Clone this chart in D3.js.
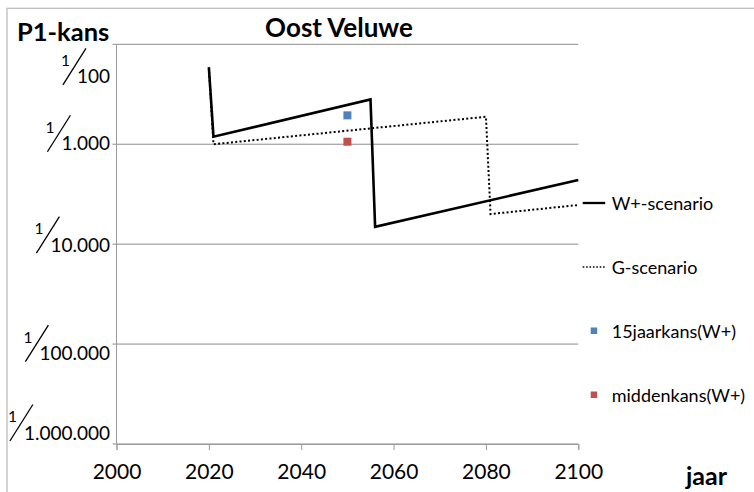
<!DOCTYPE html>
<html>
<head>
<meta charset="utf-8">
<script src="https://cdn.jsdelivr.net/npm/d3@7"></script>
<style>
  html, body { margin: 0; padding: 0; background: #fff; }
  svg { display: block; font-family: Lato, "Open Sans", sans-serif; }
</style>
</head>
<body>
<div class="graph-container"></div>
<script>
// Gegevens: kans = 1 / waarde
const wYears = [2020, 2021, 2055, 2056, 2100];
const wKans = [170, 840, 356, 6700, 2280];
const gYears = [2020, 2021, 2080, 2081, 2100];
const gKans = [170, 1000, 531, 5000, 4060];
const pointYear = 2050;
const kans15jaar = 514;
const middenkans = 944;

const yTicks = [100, 1000, 10000, 100000, 1000000];
const yTickLabels = ["100", "1.000", "10.000", "100.000", "1.000.000"];
const xTicks = [2000, 2020, 2040, 2060, 2080, 2100];
const legendNames = ["W+-scenario", "G-scenario", "15jaarkans(W+)", "middenkans(W+)"];

// handmatige verschuiving van de labels (zoals in de bron)
const labelShift = [39, 6, 7.5, 16, -4.5];

const W = 754, H = 492;
const margin = { top: 44.3, right: 175.7, bottom: 48, left: 116.5 };

const svg = d3.select(".graph-container")
  .append("svg")
  .attr("width", W)
  .attr("height", H);

svg.append("rect").attr("width", W).attr("height", H).attr("fill", "#fff");

// kader van de grafiek
svg.append("rect")
  .attr("x", 7).attr("y", 8.3)
  .attr("width", W + 20).attr("height", H + 20)
  .attr("fill", "none")
  .attr("stroke", "#bdbdbd")
  .attr("stroke-width", 1.3);

const x = d3.scaleLinear()
  .domain([2000, 2100])
  .range([margin.left, W - margin.right]);

const y = d3.scaleLog()
  .domain([1e-6, 1e-2])
  .range([H - margin.bottom, margin.top]);

// Rasterlijnen
svg.append("g")
  .selectAll("line")
  .data(yTicks)
  .join("line")
  .attr("x1", x(2000) - 4).attr("x2", x(2100))
  .attr("y1", d => y(1 / d)).attr("y2", d => y(1 / d))
  .attr("stroke", "#8c8c8c")
  .attr("stroke-width", 1);

// Y-as
svg.append("line")
  .attr("x1", x(2000)).attr("x2", x(2000))
  .attr("y1", y(1e-2)).attr("y2", y(1e-6))
  .attr("stroke", "#9a9a9a");

// X-as
const xAxis = svg.append("g")
  .attr("transform", `translate(0,${y(1e-6)})`)
  .call(d3.axisBottom(x).tickValues(xTicks).tickSize(6).tickPadding(14).tickFormat(d3.format("d")));
xAxis.select(".domain").attr("stroke", "#9a9a9a");
xAxis.selectAll(".tick line").attr("stroke", "#9a9a9a");
xAxis.selectAll(".tick text")
  .attr("fill", "#000")
  .style("font-size", "21px")
  .style("font-family", "Lato, sans-serif");

// Y-labels als breuk 1/N
const yl = svg.append("g")
  .selectAll("g")
  .data(yTicks)
  .join("g")
  .attr("transform", (d, i) => `translate(${x(2000) - 6.5},${y(1 / d) + labelShift[i]})`);

yl.append("text")
  .attr("class", "den")
  .attr("text-anchor", "end")
  .style("font-size", "19px")
  .text((d, i) => yTickLabels[i]);

yl.each(function () {
  const g = d3.select(this);
  const w = g.select(".den").node().getComputedTextLength();
  const left = -w;
  g.append("line")
    .attr("x1", left - 14).attr("y1", 1.5)
    .attr("x2", left + 9).attr("y2", -35)
    .attr("stroke", "#000").attr("stroke-width", 1.3);
  g.append("text")
    .attr("x", left - 7).attr("y", -17.5)
    .attr("text-anchor", "end")
    .style("font-size", "15.5px")
    .text("1");
});

// Lijnen
const line = d3.line()
  .x(d => x(d[0]))
  .y(d => y(1 / d[1]));

svg.append("path")
  .datum(gYears.map((v, i) => [v, gKans[i]]))
  .attr("fill", "none")
  .attr("stroke", "#000")
  .attr("stroke-width", 2)
  .attr("stroke-dasharray", "2,2.3")
  .attr("d", line);

svg.append("path")
  .datum(wYears.map((v, i) => [v, wKans[i]]))
  .attr("fill", "none")
  .attr("stroke", "#000")
  .attr("stroke-width", 2.6)
  .attr("stroke-linejoin", "miter")
  .attr("d", line);

// Punten
const pts = [
  { year: pointYear, kans: kans15jaar, color: "#4f81bd" },
  { year: pointYear, kans: middenkans, color: "#c0504d" }
];
svg.append("g")
  .selectAll("rect")
  .data(pts)
  .join("rect")
  .attr("x", d => x(d.year) - 4)
  .attr("y", d => y(1 / d.kans) - 4)
  .attr("width", 8).attr("height", 8)
  .attr("fill", d => d.color);

// Titels
svg.append("text")
  .attr("x", 339).attr("y", 37)
  .attr("text-anchor", "middle")
  .style("font-size", "26px").style("font-weight", "bold")
  .text("Oost Veluwe");

svg.append("text")
  .attr("x", 17).attr("y", 40.5)
  .style("font-size", "25.5px").style("font-weight", "bold")
  .text("P1-kans");

svg.append("text")
  .attr("x", 686).attr("y", 485)
  .style("font-size", "25px").style("font-weight", "bold")
  .text("jaar");

// Legenda
const lg = svg.append("g")
  .selectAll("g")
  .data(legendNames)
  .join("g")
  .attr("transform", (d, i) => `translate(582.7,${203 + i * 64})`);

lg.append("text")
  .attr("x", 29).attr("y", 6.5)
  .style("font-size", "18px")
  .text(d => d);

lg.filter((d, i) => i < 2)
  .append("line")
  .attr("x1", 0).attr("x2", 22.5)
  .attr("y1", 0).attr("y2", 0)
  .attr("stroke", "#000")
  .attr("stroke-width", (d, i) => i === 0 ? 2.3 : 1.6)
  .attr("stroke-dasharray", (d, i) => i === 0 ? null : "1.6,1.8");

lg.filter((d, i) => i >= 2)
  .append("rect")
  .attr("x", 8).attr("y", -3.5)
  .attr("width", 6.5).attr("height", 6.5)
  .attr("fill", (d, i) => pts[i].color);
</script>
</body>
</html>
